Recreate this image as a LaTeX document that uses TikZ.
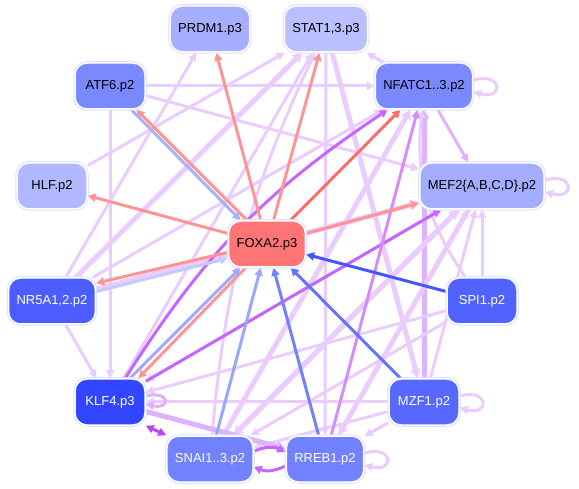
\documentclass[tikz,border=0pt]{standalone}
\usepackage{fontspec}
\setmainfont{Liberation Sans}
\usetikzlibrary{arrows.meta,backgrounds}
\definecolor{lav}{HTML}{EACCFF}
\definecolor{lavd}{HTML}{DDB2FF}
\definecolor{pur}{HTML}{C466FF}
\definecolor{purl}{HTML}{D48CFF}
\definecolor{purd}{HTML}{BB44FF}
\definecolor{sal}{HTML}{FF9494}
\definecolor{redd}{HTML}{FF6B6B}
\definecolor{rim}{HTML}{DDE1FF}
\definecolor{bA}{HTML}{A8B0F8}
\definecolor{bB}{HTML}{C4CAFF}
\definecolor{bC}{HTML}{A0A8FF}
\definecolor{bD}{HTML}{9AA6FF}
\definecolor{bE}{HTML}{7282FF}
\definecolor{bF}{HTML}{6474FF}
\definecolor{bG}{HTML}{4456FF}
\definecolor{cPRDM}{HTML}{A6AEFF}
\definecolor{cSTAT}{HTML}{B9BFFF}
\definecolor{cATF}{HTML}{7B89FF}
\definecolor{cHLF}{HTML}{B1B8FF}
\definecolor{cMEF}{HTML}{A4ADFF}
\definecolor{cFOXA}{HTML}{FF7575}
\definecolor{cNRA}{HTML}{4B5DFF}
\definecolor{cSPI}{HTML}{5062FF}
\definecolor{cKLF}{HTML}{3346FF}
\definecolor{cMZF}{HTML}{5768FF}
\definecolor{cSNAI}{HTML}{7181FF}
\begin{document}
\begin{tikzpicture}[x=1pt,y=-1pt,
 tf/.style={rounded corners=12pt,minimum height=46pt,minimum width=70pt,inner xsep=8pt,draw=white,line width=1.5pt,font=\fontsize{13}{15}\selectfont,preaction={draw=rim,line width=3.5pt}},
 e/.style={line width=3pt,-{Triangle[length=8pt,width=8pt]}},
 ew/.style={e,line width=5pt,-{Triangle[length=9pt,width=10pt]}}]
\useasboundingbox (0,0) rectangle (579,489);
\node[tf,fill=cPRDM] (PRDM) at (210,29) {PRDM1.p3};
\node[tf,fill=cSTAT] (STAT) at (326,29) {STAT1,3.p3};
\node[tf,fill=cATF] (ATF) at (110,86) {ATF6.p2};
\node[tf,fill=cATF] (NFAT) at (424,86) {NFATC1..3.p2};
\node[tf,fill=cHLF] (HLF) at (52,186) {HLF.p2};
\node[tf,fill=cMEF] (MEF) at (482,186) {MEF2\{A,B,C,D\}.p2};
\node[tf,fill=cFOXA] (FOXA) at (267,244) {FOXA2.p3};
\node[tf,fill=cNRA,text=white] (NRA) at (52,301) {NR5A1,2.p2};
\node[tf,fill=cSPI,text=white] (SPI) at (482,301) {SPI1.p2};
\node[tf,fill=cKLF,text=white] (KLF) at (110,402) {KLF4.p3};
\node[tf,fill=cMZF,text=white] (MZF) at (424,402) {MZF1.p2};
\node[tf,fill=cSNAI,text=white] (SNAI) at (210,459) {SNAI1..3.p2};
\node[tf,fill=cSNAI,text=white] (RREB) at (325,459) {RREB1.p2};
\begin{scope}[on background layer]
\draw[e,lav] (ATF)--(NFAT);
\draw[e,lav] (ATF)--(MEF);
\draw[e,lav] (ATF)--(KLF);
\draw[e,lav] (HLF)--(STAT);
\draw[e,lav] (NRA)--(PRDM);
\draw[ew,lav] (NRA)--(STAT);
\draw[e,lav] (NRA)--(NFAT);
\draw[ew,lav] (NRA)--(MEF);
\draw[e,lav] (NRA)--(KLF);
\draw[e,lav] (KLF)--(STAT);
\draw[e,lav] (SNAI) to[bend left=10] (STAT);
\draw[ew,lav] (SNAI)--(NFAT);
\draw[ew,lav] (SNAI)--(MEF);
\draw[e,lav] (RREB)--(MEF);
\draw[ew,lav] (STAT)--(MZF);
\draw[e,lav] (STAT)--(RREB);
\draw[ew,lavd] (MZF)--(NFAT);
\draw[e,lav] (MZF)--(MEF);
\draw[e,lav] (MZF)--(KLF);
\draw[e,lav] (MZF)--(SNAI);
\draw[e,lav] (MZF)--(RREB);
\draw[e,lavd] (NFAT)--(MEF);
\draw[e,lav] (NFAT)--(STAT);
\draw[e,lav] (SPI)--(MEF);
\draw[e,lav] (SPI)--(KLF);
\draw[e,lav] (SPI)--(SNAI);
\draw[e,lav] (SPI) to[bend left=20] (NFAT);
\draw[e,lav] (MEF)--(KLF);
\draw[ew,lav] (MEF)--(SNAI);
\draw[ew,lav] (MEF)--(RREB);
\draw[ew,lavd] (KLF)--(RREB);
\draw[e,lav] ([yshift=6pt]NFAT.east) .. controls +(30,-8) and +(30,8) .. ([yshift=-6pt]NFAT.east);
\draw[e,lav] ([yshift=6pt]MEF.east) .. controls +(30,-8) and +(30,8) .. ([yshift=-6pt]MEF.east);
\draw[e,lav] ([yshift=6pt]MZF.east) .. controls +(30,-8) and +(30,8) .. ([yshift=-6pt]MZF.east);
\draw[e,lav] ([yshift=6pt]RREB.east) .. controls +(30,-8) and +(30,8) .. ([yshift=-6pt]RREB.east);
\draw[e,lavd] ([yshift=6pt]KLF.east) .. controls +(25,-6) and +(25,6) .. ([yshift=-2pt]KLF.east);
\draw[e,pur] (KLF) to[bend left=12] (NFAT);
\draw[e,pur] (KLF)--(MEF);
\draw[e,purl] (RREB)--(NFAT);
\draw[e,purd,{Triangle[length=8pt,width=8pt]}-{Triangle[length=8pt,width=8pt]}] (KLF.south east)--(SNAI.north west);
\draw[e,pur] (SNAI.10) to[bend left=25] (RREB.170);
\draw[e,pur] (RREB.-170) to[bend left=25] (SNAI.-10);
\draw[e,sal] (FOXA)--(PRDM);
\draw[e,sal] (FOXA)--(STAT);
\draw[e,redd] (FOXA)--(NFAT);
\draw[e,sal] (FOXA)--(MEF);
\draw[e,sal] (FOXA)--(HLF);
\draw[e,sal] (FOXA.130)--(ATF.-42);
\draw[e,bA] (ATF.-48)--(FOXA.138);
\draw[e,sal] (FOXA.192)--(NRA.22);
\draw[e,bB] (NRA.12)--(FOXA.200);
\draw[e,sal] (FOXA.228)--(KLF.40);
\draw[e,bC] (KLF.50)--(FOXA.222);
\draw[e,bD] (SNAI)--(FOXA);
\draw[e,bE] (RREB)--(FOXA);
\draw[e,bF] (MZF)--(FOXA);
\draw[e,bG] (SPI)--(FOXA);
\end{scope}
\end{tikzpicture}
\end{document}
